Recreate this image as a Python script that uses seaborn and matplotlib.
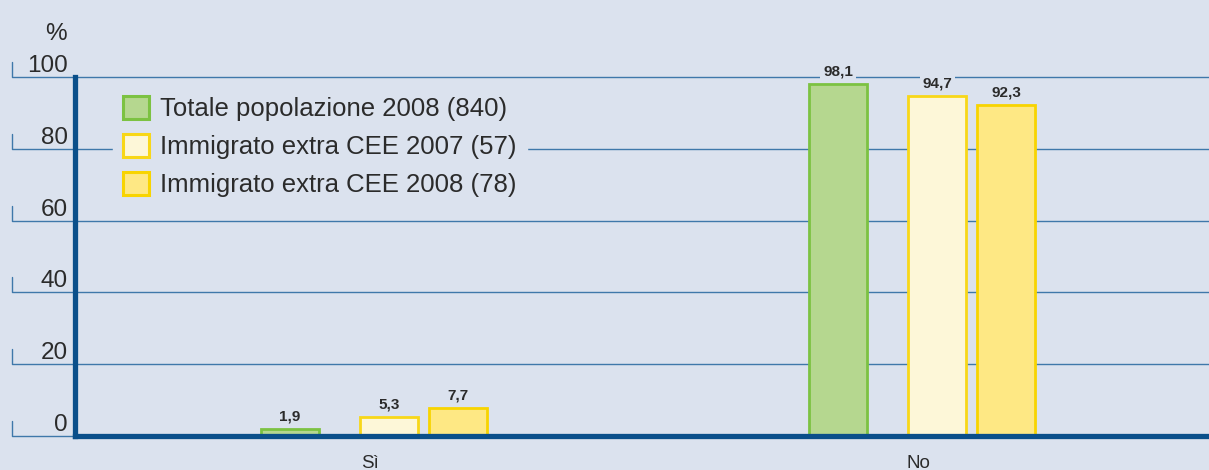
import matplotlib

matplotlib.use("Agg")
import matplotlib.pyplot as plt
import matplotlib.transforms as mtransforms
from matplotlib.patches import Patch
import pandas as pd
import seaborn as sns

# --- data -------------------------------------------------------------------
RISPOSTE = ["Sì", "No"]
GRUPPI = [
    "Totale popolazione 2008 (840)",
    "Immigrato extra CEE 2007 (57)",
    "Immigrato extra CEE 2008 (78)",
]
TOTALE_2008 = [1.9, 98.1]
IMMIGRATI_2007 = [5.3, 94.7]
IMMIGRATI_2008 = [7.7, 92.3]
Y_TICKS = [0, 20, 40, 60, 80, 100]

# --- style ------------------------------------------------------------------
BG = "#dbe2ee"
GRID = "#3f78aa"
SPINE = "#0a4f8a"
TEXT = "#2b2b2b"
FILLS = ["#b5d78f", "#fdf7d8", "#fee884"]
EDGES = ["#7cc242", "#f8d718", "#f8d400"]
OFFSETS = [-0.146, 0.035, 0.161]   # bar centre shift from category tick
BAR_W = 0.106

sns.set_style("white")
plt.rcParams["font.family"] = ["Liberation Sans", "DejaVu Sans"]

df = pd.DataFrame({
    "risposta": RISPOSTE * 3,
    "gruppo": [g for g in GRUPPI for _ in RISPOSTE],
    "pct": TOTALE_2008 + IMMIGRATI_2007 + IMMIGRATI_2008,
})

fig = plt.figure(figsize=(12.09, 4.70), dpi=100, facecolor=BG)
ax = fig.add_axes([75 / 1209, 34 / 470, 1134 / 1209, 359 / 470])
ax.set_facecolor(BG)

sns.barplot(data=df, x="risposta", y="pct", hue="gruppo", hue_order=GRUPPI,
            order=RISPOSTE, palette=FILLS, saturation=1, errorbar=None,
            legend=False, linewidth=2.0, ax=ax, zorder=3)

# reposition bars (uneven spacing in the original) and label them
for i, cont in enumerate(ax.containers):
    for j, patch in enumerate(cont.patches):
        patch.set_width(BAR_W)
        patch.set_x(j + OFFSETS[i] - BAR_W / 2)
        patch.set_edgecolor(EDGES[i])
    labels = [f"{v:.1f}".replace(".", ",") for v in cont.datavalues]
    ax.bar_label(cont, labels=labels, padding=4, fontsize=11,
                 fontweight="bold", color=TEXT, zorder=4,
                 bbox=dict(facecolor=BG, edgecolor="none", pad=2))

ax.set_xlim(-0.538, 1.531)
ax.set_ylim(0, 100)

# gridlines extending left of the axis, with a small tick at the far left
trans = mtransforms.blended_transform_factory(ax.transAxes, ax.transData)
x_left = -(75 - 12) / 1134
for v in Y_TICKS:
    ax.plot([x_left, x_left, 1], [v + 4.2, v, v], transform=trans,
            color=GRID, lw=1.0, clip_on=False, zorder=1)

ax.set_yticks(Y_TICKS)
ax.set_yticklabels([str(v) for v in Y_TICKS])
for lab in ax.get_yticklabels():
    lab.set_verticalalignment("bottom")
ax.tick_params(axis="y", length=0, pad=5, labelsize=17.5, labelcolor=TEXT)
ax.tick_params(axis="x", length=0, pad=14, labelsize=13.5, labelcolor=TEXT)
ax.set_xlabel("")
ax.set_ylabel("")
ax.text(-0.007, 1.09, "%", transform=ax.transAxes, ha="right", va="bottom",
        fontsize=17.5, color=TEXT)

for side in ["top", "right"]:
    ax.spines[side].set_visible(False)
for side in ["left", "bottom"]:
    ax.spines[side].set_color(SPINE)
    ax.spines[side].set_linewidth(3.8)
    ax.spines[side].set_zorder(5)

handles = [Patch(facecolor=f, edgecolor=e, linewidth=2.2)
           for f, e in zip(FILLS, EDGES)]
leg = ax.legend(handles, GRUPPI, loc="upper left",
                bbox_to_anchor=(0.022, 1.012), fontsize=18.5, frameon=True,
                facecolor=BG, edgecolor=BG, framealpha=1, fancybox=False,
                handlelength=1.0, handleheight=1.0, handletextpad=0.45,
                labelspacing=0.5, borderpad=0.4)
leg.set_zorder(6)
for t in leg.get_texts():
    t.set_color(TEXT)

fig.savefig("out.png", dpi=100, facecolor=BG)
